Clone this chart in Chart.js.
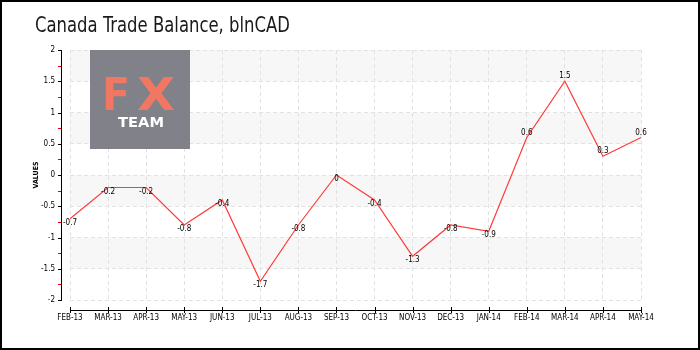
<!DOCTYPE html>
<html>
<head>
<meta charset="utf-8">
<script src="https://cdn.jsdelivr.net/npm/chart.js@4.4.0/dist/chart.umd.min.js"></script>
<style>
  html, body { margin: 0; padding: 0; background: #fff; }
</style>
</head>
<body>
<canvas id="chart" width="700" height="350"></canvas>
<script>
// données du graphique
const months = ['FEB-13', 'MAR-13', 'APR-13', 'MAY-13', 'JUN-13', 'JUL-13', 'AUG-13', 'SEP-13',
                'OCT-13', 'NOV-13', 'DEC-13', 'JAN-14', 'FEB-14', 'MAR-14', 'APR-14', 'MAY-14'];
const balance = [-0.7, -0.2, -0.2, -0.8, -0.4, -1.7, -0.8, 0, -0.4, -1.3, -0.8, -0.9, 0.6, 1.5, 0.3, 0.6];
const titleText = 'Canada Trade Balance, blnCAD';
const yAxisTitle = 'VALUES';

const FONT = '"DejaVu Sans Condensed", "Liberation Sans Narrow", "DejaVu Sans", sans-serif';
const GRID = '#e2e2e2';

// texte ajusté à une largeur donnée
function fitText(ctx, txt, x, y, width) {
  const w = ctx.measureText(txt).width;
  ctx.save();
  ctx.translate(x, y);
  ctx.scale(width / w, 1);
  ctx.fillText(txt, 0, 0);
  ctx.restore();
}

// bandes grises, axes décalés, logo, étiquettes
const decorPlugin = {
  id: 'decor',
  beforeDraw(chart) {
    const { ctx, chartArea: a, scales: { y } } = chart;
    ctx.save();
    ctx.fillStyle = '#fff';
    ctx.fillRect(0, 0, chart.width, chart.height);
    ctx.fillStyle = '#f7f7f7';
    const t = y.ticks;
    for (let i = 1; i < t.length - 1; i += 2) {
      const y1 = y.getPixelForValue(t[i].value);
      const y2 = y.getPixelForValue(t[i + 1].value);
      ctx.fillRect(a.left, y2, a.right - a.left, y1 - y2);
    }
    ctx.restore();
  },
  beforeDatasetsDraw(chart) {
    const { ctx, chartArea: a } = chart;
    const lx = a.left + 20, ly = a.top, lw = 100, lh = 99;
    ctx.save();
    ctx.globalAlpha = 0.93;
    ctx.fillStyle = '#767780';
    ctx.fillRect(lx, ly, lw, lh);
    ctx.globalAlpha = 1;
    ctx.fillStyle = '#f07862';
    ctx.font = 'bold 45px "DejaVu Sans", sans-serif';
    ctx.textAlign = 'left';
    ctx.textBaseline = 'alphabetic';
    fitText(ctx, 'F', lx + 12, ly + 60, 28);
    fitText(ctx, 'X', lx + 47, ly + 60, 38);
    ctx.fillStyle = '#ffffff';
    ctx.font = 'bold 14px "DejaVu Sans", sans-serif';
    fitText(ctx, 'TEAM', lx + 28, ly + 77, 46);
    ctx.restore();
  },
  afterDatasetsDraw(chart) {
    const { ctx } = chart;
    const meta = chart.getDatasetMeta(0);
    ctx.save();
    ctx.fillStyle = '#000';
    ctx.font = '8px ' + FONT;
    ctx.textAlign = 'center';
    ctx.textBaseline = 'middle';
    meta.data.forEach((pt, i) => {
      const v = balance[i];
      const dy = v > 0 ? -5 : 4;
      ctx.fillText(String(v), pt.x, pt.y + dy);
    });
    ctx.restore();
  },
  afterDraw(chart) {
    const { ctx, chartArea: a, scales: { x, y } } = chart;
    ctx.save();
    // axe Y décalé
    const ax = a.left - 9;
    ctx.strokeStyle = '#000';
    ctx.lineWidth = 1;
    ctx.beginPath();
    ctx.moveTo(ax + 0.5, a.top);
    ctx.lineTo(ax + 0.5, a.bottom);
    ctx.stroke();
    const t = y.ticks;
    t.forEach((tk, i) => {
      const py = Math.round(y.getPixelForValue(tk.value)) + 0.5;
      ctx.strokeStyle = '#000';
      ctx.beginPath();
      ctx.moveTo(ax - 3, py);
      ctx.lineTo(ax + 1, py);
      ctx.stroke();
      if (i < t.length - 1) {
        const my = Math.round(y.getPixelForValue((tk.value + t[i + 1].value) / 2)) + 0.5;
        ctx.strokeStyle = '#e00000';
        ctx.beginPath();
        ctx.moveTo(ax - 3, my);
        ctx.lineTo(ax, my);
        ctx.stroke();
      }
    });
    // axe X décalé
    const ay = a.bottom + 10;
    ctx.strokeStyle = '#000';
    ctx.beginPath();
    ctx.moveTo(a.left, ay + 0.5);
    ctx.lineTo(a.right, ay + 0.5);
    ctx.stroke();
    months.forEach((m, i) => {
      const px = Math.round(x.getPixelForValue(i)) + 0.5;
      ctx.beginPath();
      ctx.moveTo(px, ay - 3);
      ctx.lineTo(px, ay + 3);
      ctx.stroke();
    });
    // titre de l'axe Y
    ctx.fillStyle = '#000';
    ctx.font = 'bold 7px ' + FONT;
    ctx.textAlign = 'center';
    ctx.textBaseline = 'middle';
    ctx.save();
    ctx.translate(36, (a.top + a.bottom) / 2);
    ctx.rotate(-Math.PI / 2);
    ctx.fillText(yAxisTitle, 0, 0);
    ctx.restore();
    // titre
    ctx.fillStyle = '#1a1a1a';
    ctx.font = '22px ' + FONT;
    ctx.textAlign = 'left';
    ctx.textBaseline = 'alphabetic';
    fitText(ctx, titleText, 35, 32, 255);
    // cadre
    ctx.strokeStyle = '#000';
    ctx.lineWidth = 2;
    ctx.strokeRect(1, 1, chart.width - 2, chart.height - 2);
    ctx.restore();
  }
};

new Chart(document.getElementById('chart'), {
  type: 'line',
  data: {
    labels: months,
    datasets: [{
      data: balance,
      borderColor: '#ff3b3b',
      borderWidth: 1.2,
      pointRadius: 0,
      tension: 0,
      fill: false
    }]
  },
  options: {
    responsive: false,
    animation: false,
    devicePixelRatio: 1,
    layout: { padding: { top: 50, right: 59, left: 0, bottom: 0 } },
    plugins: { legend: { display: false }, tooltip: { enabled: false }, title: { display: false } },
    scales: {
      x: {
        offset: false,
        grid: { color: GRID, drawTicks: false },
        border: { display: false, dash: [4, 3] },
        ticks: { font: { family: FONT, size: 8 }, color: '#000', padding: 13, maxRotation: 0, autoSkip: false },
        afterFit: s => { s.height = 50; }
      },
      y: {
        min: -2,
        max: 2,
        grid: { color: GRID, drawTicks: false },
        border: { display: false, dash: [4, 3] },
        ticks: { stepSize: 0.5, font: { family: FONT, size: 8 }, color: '#000', padding: 15,
                 callback: v => String(v) },
        afterFit: s => { s.width = 70; }
      }
    }
  },
  plugins: [decorPlugin]
});
</script>
</body>
</html>
